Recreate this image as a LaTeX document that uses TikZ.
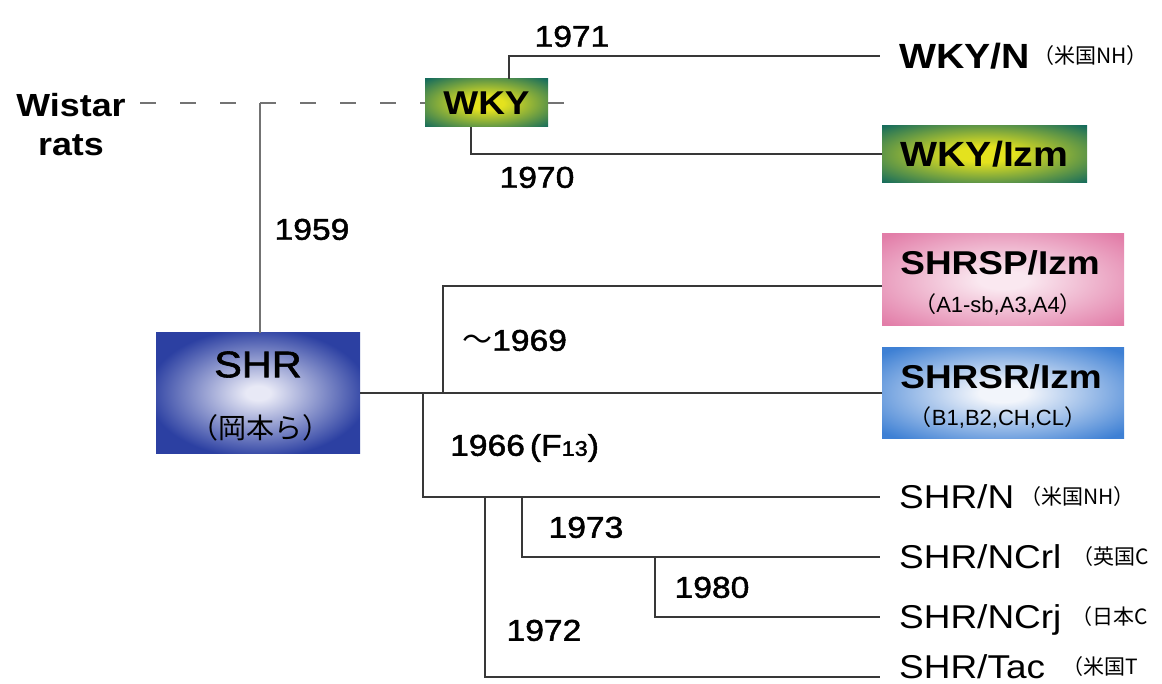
\documentclass[tikz,border=0pt]{standalone}
\usepackage{fontspec}
\setmainfont{Liberation Sans}
\newfontfamily\wide[FakeStretch=1.12]{Liberation Sans}
\newfontfamily\semi[FakeStretch=1.12,FakeBold=1.6]{Liberation Sans}
\newfontfamily\cjk{Noto Sans CJK JP}
\definecolor{shrout}{RGB}{44,64,162}
\definecolor{shrin}{RGB}{232,233,246}
\definecolor{spout}{RGB}{226,125,168}
\definecolor{spin}{RGB}{250,232,240}
\definecolor{srout}{RGB}{62,128,212}
\definecolor{srin}{RGB}{242,245,251}
\definecolor{wkout}{RGB}{22,108,92}
\definecolor{wkin}{RGB}{228,226,30}
\pgfdeclareradialshading{shrshade}{\pgfpointorigin}{color(0bp)=(shrin); color(3bp)=(shrin); color(27bp)=(shrout); color(50bp)=(shrout)}
\pgfdeclareradialshading{spshade}{\pgfpointorigin}{color(0bp)=(spin); color(5bp)=(spin); color(34bp)=(spout); color(50bp)=(spout)}
\pgfdeclareradialshading{srshade}{\pgfpointorigin}{color(0bp)=(srin); color(5bp)=(srin); color(33bp)=(srout); color(50bp)=(srout)}
\pgfdeclareradialshading{wkshade}{\pgfpointorigin}{color(0bp)=(wkin); color(7bp)=(wkin); color(35bp)=(wkout); color(50bp)=(wkout)}
\begin{document}
\begin{tikzpicture}[x=1pt,y=-1pt,
  conn/.style={draw=black!78, line width=1.7pt},
  gconn/.style={draw=black!55, line width=1.7pt},
  dashconn/.style={draw=black!55, line width=1.7pt, dash pattern=on 16pt off 24pt},
  colorbox/.style={inner sep=0pt, draw=none},
  yr/.style={font=\semi\fontsize{30}{30}\selectfont, inner sep=0pt, text height=21.5pt, text depth=0pt},
  strain/.style={font=\wide\fontsize{33}{33}\selectfont, anchor=west, inner xsep=19pt, inner ysep=0pt, text height=23.6pt, text depth=0pt},
  strainb/.style={font=\wide\bfseries\fontsize{35}{35}\selectfont, anchor=west, inner xsep=19pt, inner ysep=0pt, text height=25pt, text depth=0pt},
  note/.style={font=\cjk\fontsize{21}{21}\selectfont, anchor=west, inner sep=0pt},
  boxtitle/.style={font=\wide\bfseries\fontsize{33}{33}\selectfont, inner sep=0pt, text height=23.6pt, text depth=0pt},
  boxsub/.style={font=\fontsize{22}{22}\selectfont, inner sep=0pt, text height=16pt, text depth=0pt}
]
\useasboundingbox (0,0) rectangle (1162,684);
\fill[white] (0,0) rectangle (1162,684);

% boxes
\node[colorbox, shading=wkshade, minimum width=123pt, minimum height=48pt,
      font=\wide\bfseries\fontsize{33}{33}\selectfont] (wky) at (486.5,103) {WKY};
\node[colorbox, shading=wkshade, minimum width=205pt, minimum height=57pt,
      font=\wide\bfseries\fontsize{35}{35}\selectfont] (wkyizm) at (984.5,154) {WKY/Izm};
\node[colorbox, shading=shrshade, minimum width=204pt, minimum height=120pt] (shr) at (258,393) {};
\node[colorbox, shading=spshade, minimum width=242pt, minimum height=92pt] (shrsp) at (1003,280) {};
\node[colorbox, shading=srshade, minimum width=242pt, minimum height=91pt] (shrsr) at (1003,393) {};

% box texts
\node[inner sep=0pt, font=\semi\fontsize{37}{37}\selectfont, text height=26.5pt, text depth=0pt] (shrt) at (258,364) {SHR};
\node[inner sep=0pt, font=\cjk\fontsize{28}{28}\selectfont] (shrs) at (260,428) {（岡本ら）};
\node[boxtitle] (spt) at (1000,263) {SHRSP/Izm};
\node[boxsub] (sps) at (998,305) {{\cjk （}A1-sb,A3,A4{\cjk ）}};
\node[boxtitle] (srt) at (1001,377) {SHRSR/Izm};
\node[boxsub] (srs) at (998,417) {{\cjk （}B1,B2,CH,CL{\cjk ）}};

% Wistar
\node[font=\wide\bfseries\fontsize{32}{32}\selectfont, inner sep=0pt] (wistar) at (71,105) {Wistar};
\node[font=\wide\bfseries\fontsize{32}{32}\selectfont, inner sep=0pt] (rats) at (71,145) {rats};

% strain labels
\node[strainb] (wkyn) at (880,56) {WKY/N};
\node[note] (wkynote) at (1033,56) {（米国NH）};
\node[strain] (shrn) at (880,497) {SHR/N};
\node[note] (shrnnote) at (1020,497) {（米国NH）};
\node[strain] (ncrl) at (880,557) {SHR/NCrl};
\node[note] (ncrlnote) at (1072,557) {（英国C};
\node[strain] (ncrj) at (880,617) {SHR/NCrj};
\node[note] (ncrjnote) at (1071,617) {（日本C};
\node[strain] (tac) at (880,667) {SHR/Tac};
\node[note] (tacnote) at (1062,667) {（米国T};

% years
\node[yr] (y71) at (572,36) {1971};
\node[yr] (y70) at (537,177) {1970};
\node[yr] (y59) at (312,229) {1959};
\node[yr, anchor=west] (y69) at (462,340) {{\cjk ～}1969};
\node[yr, anchor=west] (y66) at (450,445) {1966\hspace{5pt}(F{\fontsize{21}{21}\selectfont 13})};
\node[yr] (y73) at (586,527) {1973};
\node[yr] (y80) at (712,587) {1980};
\node[yr] (y72) at (544,630) {1972};

% junction coordinates
\coordinate (dstart) at (140,103);
\coordinate (dend) at (564,103);
\coordinate (j59) at (260,103);
\coordinate (c71) at (509,56);
\coordinate (c70) at (471,154);
\coordinate (m69) at (443,393);
\coordinate (c69) at (443,286);
\coordinate (m66) at (423,393);
\coordinate (c66) at (423,497);
\coordinate (c72) at (485,497);
\coordinate (c72b) at (485,677);
\coordinate (c73) at (522,497);
\coordinate (c80) at (655,557);

% connectors
\draw[dashconn] (dstart) -- (wky.west);
\draw[dashconn] (wky.east) -- (dend);
\draw[gconn] (j59) -- (j59 |- shr.north);
\draw[conn] (wky.north -| c71) -- (c71) -- (wkyn.west);
\draw[conn] (wky.south -| c70) -- (c70) -- (wkyizm.west);
\draw[conn] (shr.east) -- (shrsr.west);
\draw[conn] (m69) -- (c69) -- (c69 -| shrsp.west);
\draw[conn] (m66) -- (c66) -- (shrn.west);
\draw[conn] (c72) -- (c72b) -- (c72b -| tac.west);
\draw[conn] (c73) |- (ncrl.west);
\draw[conn] (c80) |- (ncrj.west);
\end{tikzpicture}
\end{document}
